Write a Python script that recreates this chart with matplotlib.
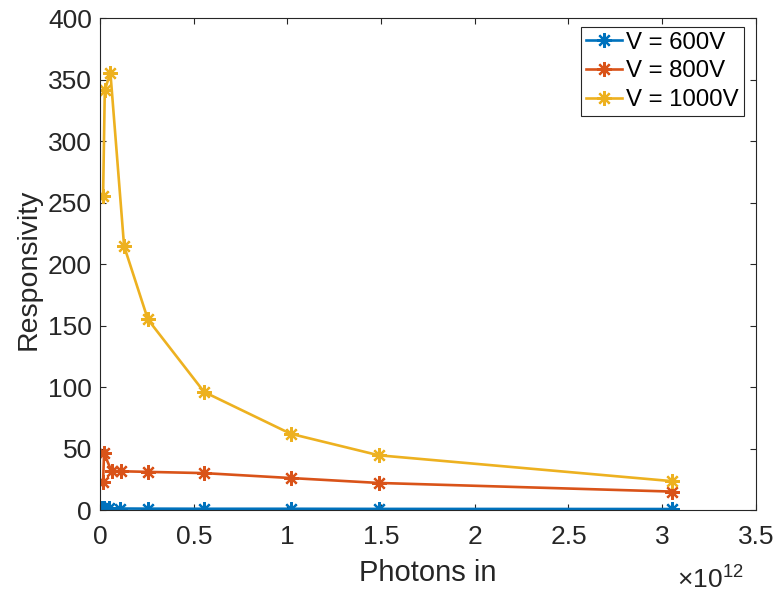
import numpy as np
import matplotlib.pyplot as plt
from matplotlib.ticker import FuncFormatter

plt.rcParams['font.family'] = ['Liberation Sans', 'DejaVu Sans']
plt.rcParams['mathtext.fontset'] = 'custom'
plt.rcParams['mathtext.rm'] = 'Liberation Sans'

# photons in (units of 1e12) and responsivity for each bias voltage
x_600 = [0.010, 0.022, 0.045, 0.105, 0.257, 0.555, 1.020, 1.488, 3.050]
r_600 = [1.5, 1.4, 1.3, 1.2, 1.1, 1.0, 1.0, 0.9, 0.8]

x_800 = [0.016, 0.021, 0.061, 0.114, 0.256, 0.555, 1.017, 1.487, 3.050]
r_800 = [22.8, 46.0, 31.7, 31.5, 31.0, 30.0, 26.0, 22.0, 15.0]

x_1000 = [0.016, 0.025, 0.055, 0.128, 0.255, 0.555, 1.017, 1.487, 3.050]
r_1000 = [255.5, 341.5, 355.5, 214.6, 155.0, 96.0, 62.0, 44.5, 23.5]

labels = ['V = 600V', 'V = 800V', 'V = 1000V']
colors = ['#0072BD', '#D95319', '#EDB120']
ink = '#262626'

fig = plt.figure(figsize=(7.76, 5.92), dpi=100)
ax = fig.add_axes([0.129, 0.1385, 0.845, 0.831])

# 8-spoke asterisk marker
star = (8, 2, 0)
for xs, ys, lab, c in zip([x_600, x_800, x_1000], [r_600, r_800, r_1000], labels, colors):
    ax.plot(np.array(xs) * 1e12, ys, color=c, lw=1.9, marker=star,
            markersize=10.5, markeredgewidth=1.6, label=lab)

ax.set_xlim(0, 3.5e12)
ax.set_ylim(0, 400)
ax.set_xticks(np.arange(0, 3.51, 0.5) * 1e12)
ax.set_yticks(np.arange(0, 401, 50))
ax.xaxis.set_major_formatter(FuncFormatter(lambda v, p: f'{v / 1e12:g}'))

ax.tick_params(direction='in', length=4.5, width=0.8, top=True, right=True,
               labelsize=19, colors=ink, labelcolor=ink)
ax.tick_params(axis='x', pad=11)
ax.tick_params(axis='y', pad=6)
for s in ax.spines.values():
    s.set_color(ink)
    s.set_linewidth(0.8)

ax.set_xlabel('Photons in', fontsize=21, color=ink)
ax.xaxis.set_label_coords(0.499, -0.1)
ax.set_ylabel('Responsivity', fontsize=20.5, color=ink)
ax.yaxis.set_label_coords(-0.089, 0.49)
fig.text(0.873, 0.008, r'$\times10^{12}$', fontsize=19, color=ink, va='baseline')

leg = ax.legend(loc='upper right', bbox_to_anchor=(0.9817, 0.9823), borderaxespad=0,
                fontsize=17.3, frameon=True, fancybox=False, edgecolor=ink,
                handlelength=1.5, handletextpad=0.2, borderpad=0.2,
                labelspacing=0.28, framealpha=1)
leg.get_frame().set_linewidth(0.8)

fig.savefig('out.png', dpi=100)
